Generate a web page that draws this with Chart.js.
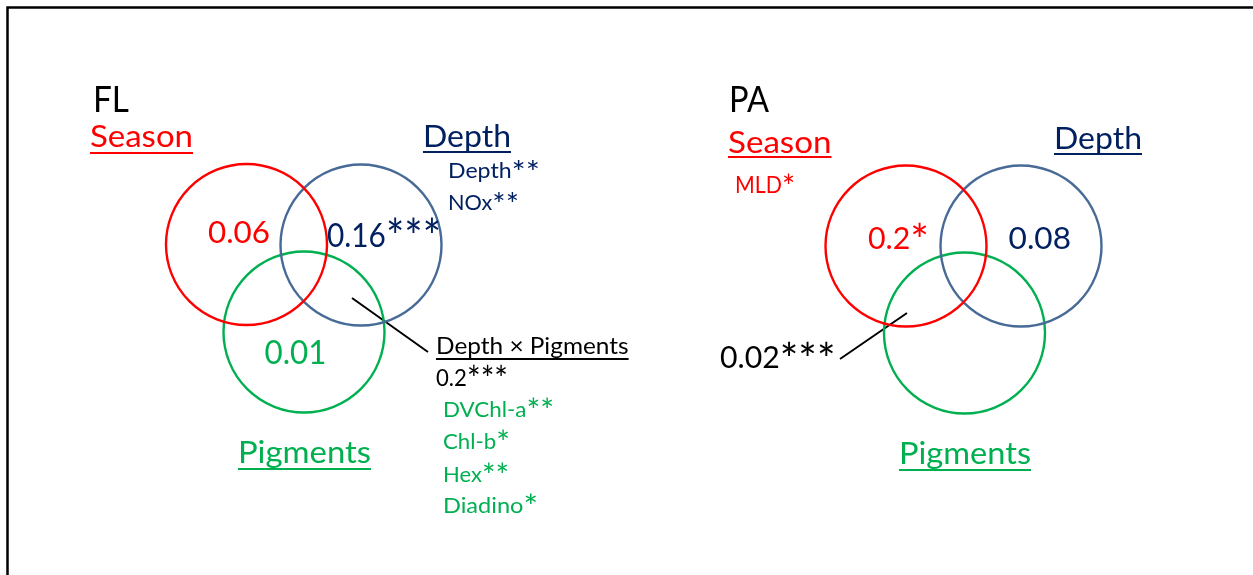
<!DOCTYPE html>
<html>
<head>
<meta charset="utf-8">
<script src="https://cdn.jsdelivr.net/npm/chart.js@4.4.1/dist/chart.umd.min.js"></script>
<style>
  html, body { margin: 0; padding: 0; background: #ffffff; }
  #wrap { width: 1253px; height: 575px; }
</style>
</head>
<body>
<div id="wrap"><canvas id="venn" width="1253" height="575"></canvas></div>
<script>
// ---- variance partitioning results ----
const sets = ['Season', 'Depth', 'Pigments'];

// FL fraction: unique fractions per set and significance
const flUnique = [0.06, 0.16, 0.01];
const flSig = ['', '***', ''];
const flDepthDrivers = ['Depth**', 'NOx**'];
const flSharedName = 'Depth × Pigments';
const flSharedValue = 0.2;
const flSharedSig = '***';
const flPigmentDrivers = ['DVChl-a**', 'Chl-b*', 'Hex**', 'Diadino*'];

// PA fraction
const paUnique = [0.2, 0.08, null];
const paSig = ['*', '', ''];
const paSeasonDrivers = ['MLD*'];
const paSharedValue = 0.02;
const paSharedSig = '***';

// ---- drawing layout (canvas units) ----
const RED = '#FF0000';
const NAVY = '#002060';
const STEEL = '#476A96';
const GREEN = '#00B050';
const BLACK = '#000000';
const FONT = 'Lato, "Liberation Sans", sans-serif';
const STAR_SCALE = 1.45;   // significance asterisks are set larger than the text
const setColors = [RED, STEEL, GREEN];
const setTextColors = [RED, NAVY, GREEN];

const panels = [
  {
    title: 'FL', titlePos: { x: 93, y: 112, w: 36, size: 37 },
    circles: [{ x: 246.5, y: 244.5 }, { x: 361, y: 245 }, { x: 304, y: 332 }],
    headers: [
      { x: 90, y: 147, w: 103, line: 153 },
      { x: 423, y: 147, w: 88, line: 152 },
      { x: 238, y: 463, w: 133, line: 469 }
    ],
    valuePos: [
      { x: 208, y: 243, w: 62, size: 31 },
      { x: 327, y: 247, w: 114, size: 33 },
      { x: 264.5, y: 364, w: 62, size: 33 }
    ],
    unique: flUnique, sig: flSig,
    leader: [{ x: 352, y: 298 }, { x: 428, y: 352 }]
  },
  {
    title: 'PA', titlePos: { x: 729, y: 112, w: 40, size: 37 },
    circles: [{ x: 906, y: 246 }, { x: 1021, y: 246 }, { x: 964.5, y: 333 }],
    headers: [
      { x: 728, y: 153, w: 103.5, line: 157 },
      { x: 1054, y: 149, w: 88, line: 154 },
      { x: 899, y: 464, w: 132, line: 470 }
    ],
    valuePos: [
      { x: 868, y: 249, w: 61, size: 30 },
      { x: 1008.6, y: 249, w: 62.4, size: 30 },
      null
    ],
    unique: paUnique, sig: paSig,
    leader: [{ x: 840, y: 359 }, { x: 907, y: 313 }]
  }
];
const RADIUS = 80.5;

// free-standing labels
const labels = [];
panels.forEach(p => {
  labels.push({ text: p.title, color: BLACK, ...p.titlePos });
  sets.forEach((s, i) => {
    const h = p.headers[i];
    labels.push({ text: s, color: setTextColors[i], x: h.x, y: h.y, w: h.w, size: 30, underline: h.line });
  });
  p.unique.forEach((v, i) => {
    if (v === null || !p.valuePos[i]) return;
    labels.push({ text: String(v) + p.sig[i], color: setTextColors[i], ...p.valuePos[i] });
  });
});
// FL extra annotations
const flDriverPos = [{ x: 448, y: 178, w: 92 }, { x: 448, y: 210, w: 71 }];
flDepthDrivers.forEach((t, i) => labels.push({ text: t, color: NAVY, size: 21, ...flDriverPos[i] }));
labels.push({ text: flSharedName, color: BLACK, x: 436, y: 354, w: 192.6, size: 23.5, underline: 359 });
labels.push({ text: String(flSharedValue) + flSharedSig, color: BLACK, x: 436, y: 386, w: 72, size: 23.5 });
const flPigPos = [{ y: 417, w: 111 }, { y: 449, w: 67 }, { y: 481.7, w: 66 }, { y: 513, w: 95 }];
flPigmentDrivers.forEach((t, i) => labels.push({ text: t, color: GREEN, x: 443, size: 22, ...flPigPos[i] }));
// PA extra annotations
labels.push({ text: paSeasonDrivers[0], color: RED, x: 735, y: 192.7, w: 60, size: 22.5 });
labels.push({ text: String(paSharedValue) + paSharedSig, color: BLACK, x: 720, y: 368, w: 115.5, size: 30 });

// ---- datasets: set circles and leader lines ----
const datasets = [];
panels.forEach(p => {
  p.circles.forEach((c, i) => {
    datasets.push({
      type: 'scatter',
      data: [{ x: c.x, y: c.y }],
      pointRadius: RADIUS,
      pointHoverRadius: RADIUS,
      pointStyle: 'circle',
      borderColor: setColors[i],
      backgroundColor: 'rgba(0,0,0,0)',
      borderWidth: 2.4
    });
  });
  datasets.push({
    type: 'line',
    data: p.leader,
    borderColor: BLACK,
    borderWidth: 2,
    pointRadius: 0,
    fill: false,
    tension: 0
  });
});

const framePlugin = {
  id: 'frame',
  beforeDraw(chart) {
    const ctx = chart.ctx;
    ctx.save();
    ctx.fillStyle = '#ffffff';
    ctx.fillRect(0, 0, chart.width, chart.height);
    ctx.strokeStyle = '#000000';
    ctx.lineWidth = 2.5;
    ctx.beginPath();
    ctx.moveTo(7.5, chart.height);
    ctx.lineTo(7.5, 7.5);
    ctx.lineTo(chart.width, 7.5);
    ctx.stroke();
    ctx.restore();
  }
};

// split a label into its text and trailing significance asterisks
function splitStars(t) {
  const m = t.match(/^(.*?)(\**)$/);
  return [m[1], m[2]];
}

const textPlugin = {
  id: 'vennText',
  afterDatasetsDraw(chart) {
    const ctx = chart.ctx;
    const xs = chart.scales.x, ys = chart.scales.y;
    labels.forEach(l => {
      const px = xs.getPixelForValue(l.x);
      const py = ys.getPixelForValue(l.y);
      const [body, stars] = splitStars(l.text);
      const bodyFont = l.size + 'px ' + FONT;
      const starFont = (l.size * STAR_SCALE) + 'px ' + FONT;
      ctx.save();
      ctx.font = bodyFont;
      const bw = ctx.measureText(body).width;
      ctx.font = starFont;
      const sw = stars ? ctx.measureText(stars).width : 0;
      const mw = bw + sw;
      const sx = l.w ? l.w / mw : 1;
      ctx.fillStyle = l.color;
      ctx.textBaseline = 'alphabetic';
      ctx.textAlign = 'left';
      ctx.translate(px, py);
      ctx.scale(sx, 1);
      ctx.font = bodyFont;
      ctx.fillText(body, 0, 0);
      if (stars) {
        ctx.font = starFont;
        ctx.fillText(stars, bw, l.size * 0.22);
      }
      ctx.restore();
      if (l.underline) {
        const uy = ys.getPixelForValue(l.underline);
        const width = l.w || mw;
        ctx.save();
        ctx.strokeStyle = l.color;
        ctx.lineWidth = 2;
        ctx.beginPath();
        ctx.moveTo(px, uy);
        ctx.lineTo(px + width, uy);
        ctx.stroke();
        ctx.restore();
      }
    });
  }
};

new Chart(document.getElementById('venn'), {
  type: 'scatter',
  data: { datasets },
  options: {
    responsive: false,
    animation: false,
    events: [],
    layout: { padding: 0, autoPadding: false },
    plugins: { legend: { display: false }, tooltip: { enabled: false } },
    scales: {
      x: { type: 'linear', min: 0, max: 1253, display: false },
      y: { type: 'linear', min: 0, max: 575, reverse: true, display: false }
    }
  },
  plugins: [framePlugin, textPlugin]
});
</script>
</body>
</html>
